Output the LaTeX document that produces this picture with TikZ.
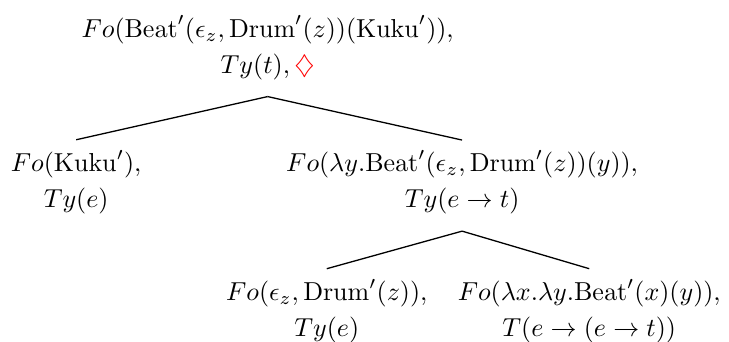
\documentclass[tikz,border=0pt]{standalone}
\usepackage{amssymb}
\usetikzlibrary{positioning}
\definecolor{ink}{HTML}{000000}
\definecolor{ptr}{HTML}{FF0000}
\tikzset{
  dnode/.style={align=center,inner sep=0pt,outer ysep=4pt,anchor=base,font=\fontsize{10}{13.8}\selectfont,text=ink},
  branch/.style={line width=0.5pt,ink}
}
\newcommand{\dn}[2]{$#1$\\$#2$}

\begin{document}
\begin{tikzpicture}[x=1cm,y=1cm]
\useasboundingbox (0,0) rectangle (9.86,4.62);
% ================= root =================
\node[dnode] (root) at (3.62,3.63) {\dn{Fo(\mathrm{Beat}'(\epsilon_z,\mathrm{Drum}'(z))(\mathrm{Kuku}')),}{Ty(t),\textcolor{ptr}{\diamondsuit}}};
% ================= daughters =================
\node[dnode] (subj) at (1.03,1.81) {\dn{Fo(\mathrm{Kuku}'),}{Ty(e)}};
\node[dnode] (pred) at (6.25,1.81) {\dn{Fo(\lambda y.\mathrm{Beat}'(\epsilon_z,\mathrm{Drum}'(z))(y)),}{Ty(e\rightarrow t)}};
% ================= inside the predicate =================
\node[dnode] (obj) at (4.42,0.07) {\dn{Fo(\epsilon_z,\mathrm{Drum}'(z)),}{Ty(e)}};
\node[dnode] (verb) at (7.97,0.07) {\dn{Fo(\lambda x.\lambda y.\mathrm{Beat}'(x)(y)),}{T(e\rightarrow (e\rightarrow t))}};
% ================= branches =================
\draw[branch] ([yshift=-2.5pt]root.south) -- (subj.north);
\draw[branch] ([yshift=-2.5pt]root.south) -- (pred.north);
\draw[branch] ([yshift=-2.5pt]pred.south) -- (obj.north);
\draw[branch] ([yshift=-2.5pt]pred.south) -- (verb.north);
\end{tikzpicture}
\end{document}
